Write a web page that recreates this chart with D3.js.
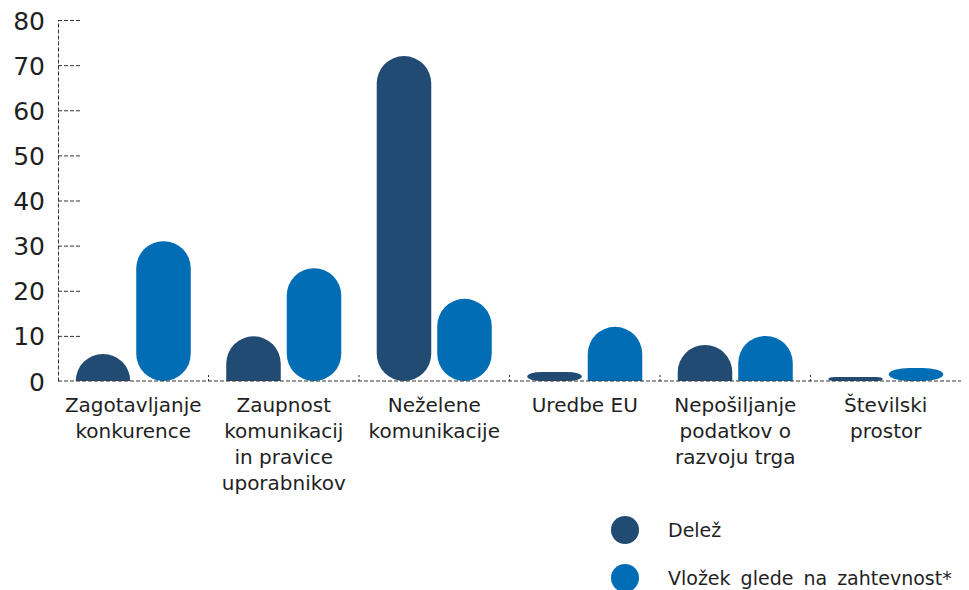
<!DOCTYPE html>
<html><head><meta charset="utf-8">
<script src="https://cdn.jsdelivr.net/npm/d3@7"></script>
<style>
body{margin:0;background:#fff;}
svg{display:block;font-family:"DejaVu Sans",sans-serif;}
</style></head>
<body><svg id="c" width="969" height="590"></svg>
<script>
const categories = [
  ["Zagotavljanje","konkurence"],
  ["Zaupnost","komunikacij","in pravice","uporabnikov"],
  ["Neželene","komunikacije"],
  ["Uredbe EU"],
  ["Nepošiljanje","podatkov o","razvoju trga"],
  ["Številski","prostor"]
];
const seriesNames = ["Delež","Vložek glede na zahtevnost*"];
const delez = [6, 9.9, 72, 2, 8, 0.9];
const vlozek = [31, 25, 18.2, 12, 10, 2.9];
const yTicks = [0,10,20,30,40,50,60,70,80];
const colors = ["#214b72","#006db5"];

const svg = d3.select("#c");
const x0 = d3.scaleBand().domain(d3.range(categories.length)).range([58, 961]).padding(0);
const x1 = d3.scaleBand().domain([0,1]).range([0, x0.bandwidth()]).paddingInner(0.099).paddingOuter(0.293);
const y = d3.scaleLinear().domain([0,80]).range([381, 20]);
const dash = "4,2";
const axisColor = "#333";
const textColor = "#1f1f1f";

// y axis
const ya = svg.append("g").attr("transform","translate(58,0)")
  .call(d3.axisLeft(y).tickValues(yTicks).tickSizeInner(-23).tickSizeOuter(0).tickPadding(13));
ya.select(".domain").attr("stroke",axisColor).attr("stroke-dasharray",dash);
ya.selectAll(".tick line").attr("stroke",axisColor).attr("stroke-dasharray",dash)
  .filter(d=>d===0).remove();
ya.selectAll(".tick text").attr("font-size",25).attr("fill",textColor)
  .attr("font-family","'DejaVu Sans',sans-serif").attr("dy","0.36em");

// bars
function barPath(xl, w, yt, yb){
  const h = yb - yt, r = w/2;
  if (h >= 2*r) {
    return `M${xl},${yt+r} A${r},${r} 0 0 1 ${xl+w},${yt+r} L${xl+w},${yb-r} A${r},${r} 0 0 1 ${xl},${yb-r} Z`;
  } else if (h >= 20) {
    const ry = Math.min(r, h);
    return `M${xl},${yb} L${xl},${yt+ry} A${r},${ry} 0 0 1 ${xl+w},${yt+ry} L${xl+w},${yb} Z`;
  } else {
    const ry = h/2, rx = Math.min(r, h*1.6);
    return `M${xl+rx},${yt} L${xl+w-rx},${yt} A${rx},${ry} 0 0 1 ${xl+w-rx},${yb} L${xl+rx},${yb} A${rx},${ry} 0 0 1 ${xl+rx},${yt} Z`;
  }
}
const series = [delez, vlozek];
series.forEach((vals, si) => {
  svg.append("g").selectAll("path").data(vals).join("path")
    .attr("fill", colors[si])
    .attr("d", (v,i) => barPath(x0(i)+x1(si), x1.bandwidth(), y(v), y(0)));
});

// x axis baseline
const xa = svg.append("g").attr("transform",`translate(0,${y(0)})`);
xa.append("line").attr("x1",58).attr("x2",961).attr("stroke",axisColor).attr("stroke-dasharray",dash);
xa.selectAll(".tk").data(d3.range(1,categories.length)).join("line")
  .attr("x1",d=>x0(d)).attr("x2",d=>x0(d)).attr("y1",0).attr("y2",-8)
  .attr("stroke",axisColor).attr("stroke-dasharray","2,2");

// category labels
const lab = svg.append("g");
categories.forEach((lines,i)=>{
  const cx = x0(i)+x0.bandwidth()/2;
  const t = lab.append("text").attr("text-anchor","middle")
    .attr("x", cx).attr("y",412)
    .attr("font-size",20).attr("fill",textColor);
  lines.forEach((l,k)=>t.append("tspan").attr("x", cx).attr("dy", k?26:0).text(l));
});

// legend
const lg = svg.append("g");
seriesNames.forEach((n,i)=>{
  const cy = 530 + i*48;
  lg.append("circle").attr("cx",625).attr("cy",cy).attr("r",14).attr("fill",colors[i]);
  lg.append("text").attr("x",668).attr("y",cy+7).attr("font-size",19).attr("word-spacing",4)
    .attr("fill",textColor).text(n);
});
</script></body></html>
